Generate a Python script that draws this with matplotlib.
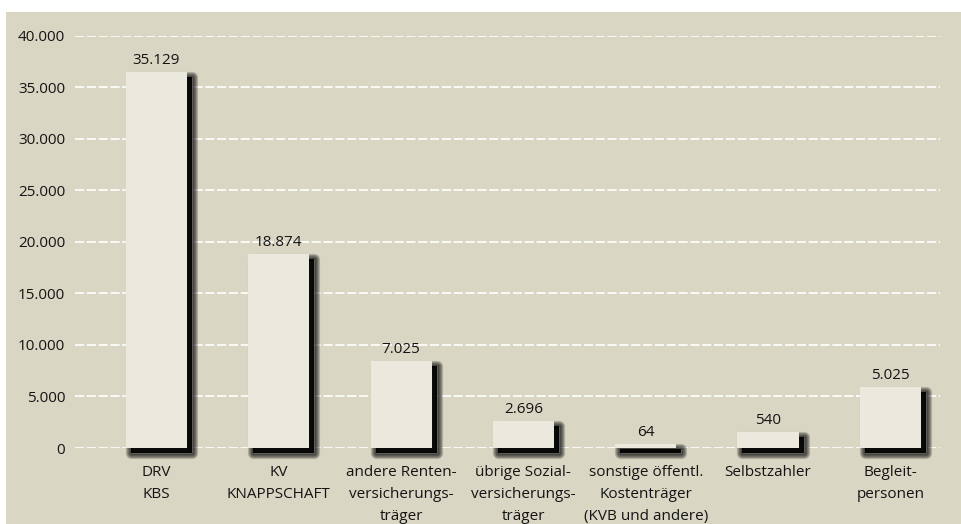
import matplotlib
matplotlib.use("Agg")
import matplotlib.pyplot as plt
import matplotlib.patheffects as pe
from matplotlib.patches import Rectangle
import numpy as np

# ---- data ----
categories = ["DRV\nKBS", "KV\nKNAPPSCHAFT", "andere Renten-\nversicherungs-\nträger",
              "übrige Sozial-\nversicherungs-\nträger",
              "sonstige öffentl.\nKostenträger\n(KVB und andere)",
              "Selbstzahler", "Begleit-\npersonen"]
bar_heights = [36500, 18850, 8450, 2620, 360, 1550, 5900]   # heights as drawn in the picture
value_labels = ["35.129", "18.874", "7.025", "2.696", "64", "540", "5.025"]
y_ticks = [0, 5000, 10000, 15000, 20000, 25000, 30000, 35000, 40000]
y_tick_labels = ["0", "5.000", "10.000", "15.000", "20.000", "25.000", "30.000", "35.000", "40.000"]

BG = "#d9d6c4"
BAR = "#ebe9de"
TXT = "#141414"
FONT = "Open Sans"

W, H = 962, 524
fig = plt.figure(figsize=(W / 100, H / 100), dpi=100)
fig.patch.set_facecolor("white")
fig.patches.append(Rectangle((6 / W, 0), 1 - 6 / W, 1 - 12 / H, transform=fig.transFigure,
                             facecolor=BG, edgecolor="none", zorder=-10))

left, right = 75, 940
y0, ytop = 448, 35.7
ax = fig.add_axes([left / W, (H - y0) / H, (right - left) / W, (y0 - ytop) / H])
ax.set_facecolor("none")
for s in ax.spines.values():
    s.set_visible(False)

x = np.arange(len(categories))
pitch = 122.3
x0 = (left - 156.5) / pitch
x1 = x0 + (right - left) / pitch
ax.set_xlim(x0, x1)
ax.set_ylim(0, 40000)

ax.set_yticks(y_ticks)
ax.set_yticklabels(y_tick_labels, fontsize=11, color=TXT, family=FONT)
ax.tick_params(axis="y", length=0, pad=7)
ax.yaxis.grid(True, color="white", linestyle=(0, (5.5, 1.6)), linewidth=1.2)
ax.set_axisbelow(True)

ax.set_xticks(x)
ax.set_xticklabels(categories, fontsize=11, color=TXT, family=FONT, linespacing=1.6)
ax.tick_params(axis="x", length=0, pad=12.5)

off = (3.6, -3.6)
effects = []
for lw in (8, 6.5, 5, 3.5, 2):
    effects.append(pe.Stroke(offset=off, linewidth=lw, foreground="black", alpha=0.2,
                             joinstyle="round"))
effects.append(pe.SimplePatchShadow(offset=off, shadow_rgbFace="black", alpha=0.95))
effects.append(pe.Normal())

bars = ax.bar(x, bar_heights, width=0.5, color=BAR, edgecolor="none", zorder=3)
for b in bars:
    b.set_clip_on(False)
    b.set_path_effects(effects)

for xi, h, lab in zip(x, bar_heights, value_labels):
    ax.annotate(lab, (xi, h), xytext=(0, 3), textcoords="offset points",
                ha="center", va="bottom", fontsize=11, color=TXT, family=FONT, zorder=4)

fig.savefig("out.png", dpi=100, facecolor=fig.get_facecolor())
